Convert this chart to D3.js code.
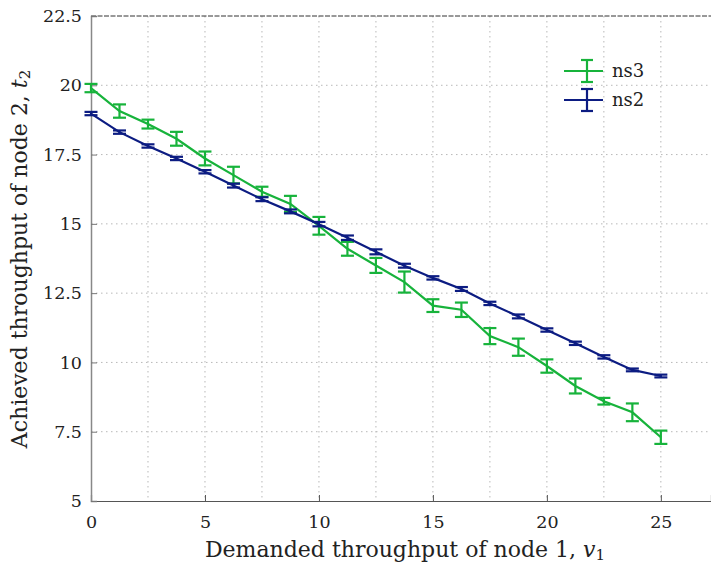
<!DOCTYPE html>
<html>
<head>
<meta charset="utf-8">
<script src="https://cdn.jsdelivr.net/npm/d3@7"></script>
<style>
  body { margin: 0; background: #fff; }
</style>
</head>
<body>
<svg id="chart" width="711" height="566"></svg>
<script>
// demanded throughput of node 1
const xValues = [0, 1.25, 2.5, 3.75, 5, 6.25, 7.5, 8.75, 10, 11.25, 12.5, 13.75, 15, 16.25, 17.5, 18.75, 20, 21.25, 22.5, 23.75, 25];

// ns3 mean and half error
const ns3Values = [19.9, 19.07, 18.6, 18.07, 17.36, 16.76, 16.16, 15.72, 14.93, 14.1, 13.5, 12.9, 12.05, 11.9, 10.95, 10.55, 9.87, 9.15, 8.6, 8.2, 7.3];
const ns3Err = [0.15, 0.24, 0.16, 0.25, 0.25, 0.3, 0.18, 0.29, 0.32, 0.25, 0.27, 0.38, 0.23, 0.26, 0.29, 0.31, 0.24, 0.27, 0.12, 0.32, 0.24];

// ns2 mean and half error
const ns2Values = [18.98, 18.31, 17.81, 17.36, 16.88, 16.38, 15.89, 15.45, 14.99, 14.5, 13.99, 13.49, 13.05, 12.65, 12.13, 11.66, 11.17, 10.69, 10.2, 9.73, 9.51];
const ns2Err = [0.06, 0.06, 0.06, 0.06, 0.06, 0.07, 0.07, 0.07, 0.08, 0.08, 0.09, 0.07, 0.06, 0.07, 0.06, 0.07, 0.06, 0.06, 0.06, 0.05, 0.05];

const xTicks = [0, 5, 10, 15, 20, 25];
const yTicks = [5, 7.5, 10, 12.5, 15, 17.5, 20, 22.5];
const xGrid = [0, 2.5, 5, 7.5, 10, 12.5, 15, 17.5, 20, 22.5, 25];

const series = [
  { name: "ns3", color: "#17b33b", values: ns3Values, err: ns3Err },
  { name: "ns2", color: "#0c1c82", values: ns2Values, err: ns2Err }
];

const font = '"DejaVu Serif", "Liberation Serif", serif';
const svg = d3.select("#chart").attr("font-family", font);
const plotLeft = 91, plotRight = 711, plotTop = 16, plotBottom = 501;

const x = d3.scaleLinear().domain([0, 27.2]).range([plotLeft, plotRight]);
const y = d3.scaleLinear().domain([5, 22.5]).range([plotBottom, plotTop]);

// grid
svg.append("g").selectAll("line").data(xGrid.filter(d => d > 0)).enter().append("line")
  .attr("x1", d => x(d)).attr("x2", d => x(d))
  .attr("y1", plotTop).attr("y2", plotBottom)
  .attr("stroke", "#b8b8b8").attr("stroke-width", 1).attr("stroke-dasharray", "1.5,3.5");

svg.append("g").selectAll("line").data(yTicks.filter(d => d > 5 && d < 22.5)).enter().append("line")
  .attr("x1", plotLeft).attr("x2", plotRight)
  .attr("y1", d => y(d)).attr("y2", d => y(d))
  .attr("stroke", "#b8b8b8").attr("stroke-width", 1).attr("stroke-dasharray", "1.5,3.5");

// top border
svg.append("line")
  .attr("x1", plotLeft).attr("x2", plotRight).attr("y1", plotTop).attr("y2", plotTop)
  .attr("stroke", "#333").attr("stroke-width", 1).attr("stroke-dasharray", "5,1.5");

// axes
const xAxis = svg.append("g")
  .attr("transform", "translate(0," + plotBottom + ")")
  .call(d3.axisBottom(x).tickValues(xTicks).tickSize(-6).tickPadding(15).tickFormat(d3.format("d")));
xAxis.attr("font-family", font);
xAxis.select(".domain").attr("stroke", "#555").attr("stroke-width", 1.2);
xAxis.selectAll(".tick line").attr("stroke", "#555");
xAxis.selectAll("text").style("font-size", "17.5px").attr("fill", "#222");

const yAxis = svg.append("g")
  .attr("transform", "translate(" + plotLeft + ",0)")
  .call(d3.axisLeft(y).tickValues(yTicks).tickSize(-6).tickPadding(9).tickFormat(d => String(d)));
yAxis.attr("font-family", font);
yAxis.select(".domain").attr("stroke", "#888").attr("stroke-width", 1.5);
yAxis.selectAll(".tick line").attr("stroke", "#777");
yAxis.selectAll("text").style("font-size", "17.5px").attr("fill", "#222");

// series
const line = d3.line().x((d, i) => x(xValues[i])).y(d => y(d));
const cap = 6.5;

series.forEach(s => {
  svg.append("path").datum(s.values)
    .attr("fill", "none").attr("stroke", s.color).attr("stroke-width", 2.2)
    .attr("d", line);

  const g = svg.append("g").attr("stroke", s.color).attr("stroke-width", 2.2);
  s.values.forEach((v, i) => {
    const cx = x(xValues[i]);
    const y0 = y(v - s.err[i]), y1 = y(v + s.err[i]);
    g.append("line").attr("x1", cx).attr("x2", cx).attr("y1", y0).attr("y2", y1);
    g.append("line").attr("x1", cx - cap).attr("x2", cx + cap).attr("y1", y0).attr("y2", y0);
    g.append("line").attr("x1", cx - cap).attr("x2", cx + cap).attr("y1", y1).attr("y2", y1);
  });
});

// legend
const legend = svg.append("g");
series.forEach((s, i) => {
  const ly = 71 + i * 29;
  const g = legend.append("g").attr("stroke", s.color).attr("stroke-width", 2.2);
  g.append("line").attr("x1", 564).attr("x2", 603).attr("y1", ly).attr("y2", ly);
  g.append("line").attr("x1", 587).attr("x2", 587).attr("y1", ly - 11).attr("y2", ly + 11);
  g.append("line").attr("x1", 581).attr("x2", 593).attr("y1", ly - 11).attr("y2", ly - 11);
  g.append("line").attr("x1", 581).attr("x2", 593).attr("y1", ly + 11).attr("y2", ly + 11);
  legend.append("text").attr("x", 612).attr("y", ly + 6)
    .attr("fill", "#222").style("font-size", "18px").text(s.name);
});

// axis titles
const xt = svg.append("text")
  .attr("x", 405).attr("y", 557).attr("text-anchor", "middle")
  .attr("fill", "#222").style("font-size", "22px");
xt.append("tspan").text("Demanded throughput of node 1, ");
xt.append("tspan").attr("font-style", "italic").text("v");
xt.append("tspan").attr("dy", 3).style("font-size", "15px").text("1");

const yt = svg.append("text")
  .attr("transform", "translate(27,259) rotate(-90)").attr("text-anchor", "middle")
  .attr("fill", "#222").style("font-size", "22px");
yt.append("tspan").text("Achieved throughput of node 2, ");
yt.append("tspan").attr("font-style", "italic").text("t");
yt.append("tspan").attr("dy", 3).style("font-size", "15px").text("2");
</script>
</body>
</html>
